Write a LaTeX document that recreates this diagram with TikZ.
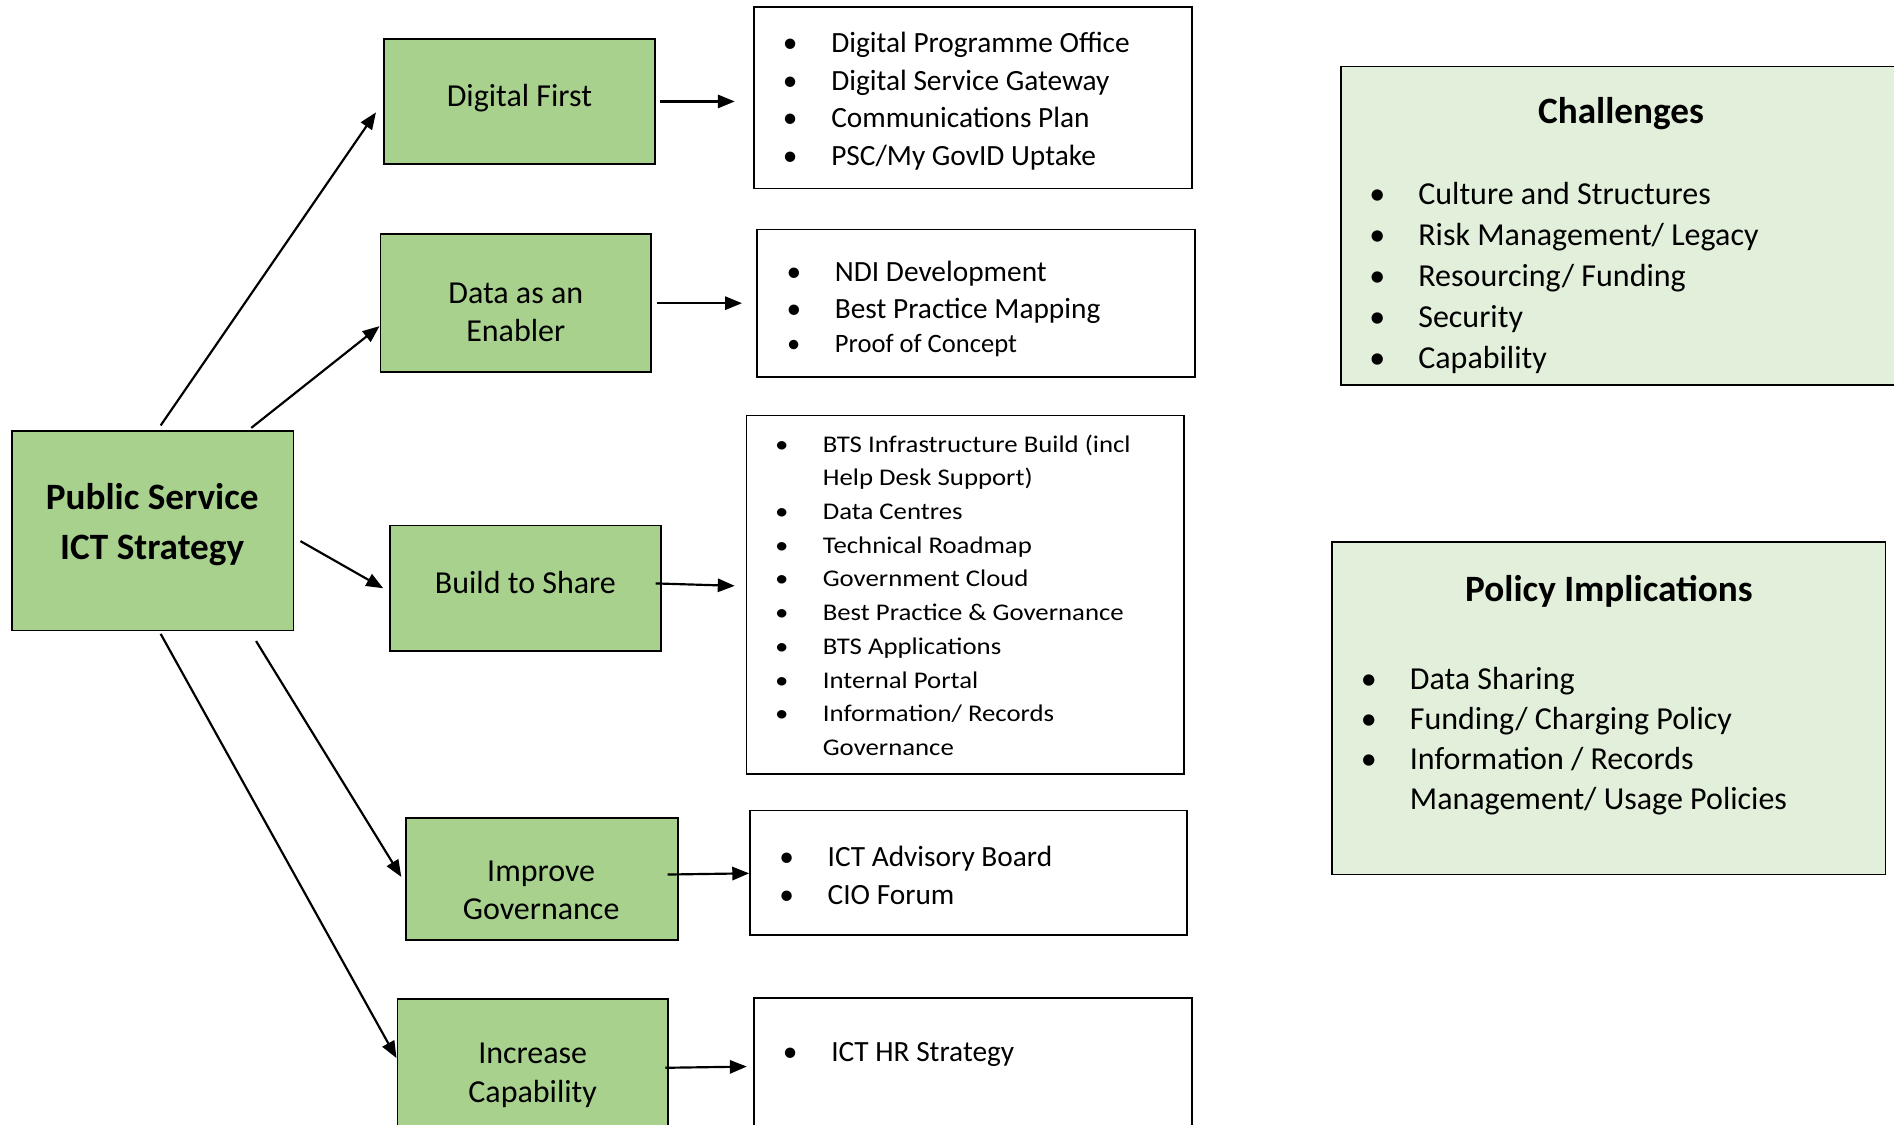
\documentclass[tikz,border=0pt]{standalone}
\usepackage{fontspec}
\setmainfont{Carlito}
\newfontfamily\widefont[FakeStretch=1.12]{Carlito}
\usetikzlibrary{arrows.meta,calc}
\definecolor{gfill}{HTML}{A9D18E}
\definecolor{lfill}{HTML}{E2EFDA}
\newcommand\bul{\makebox[0pt][c]{\textbullet}\hspace{34pt}}
\begin{document}
\begin{tikzpicture}[x=1pt,y=-1pt,
  box/.style={rectangle, draw=black, line width=1.5pt, inner sep=0pt},
  gbox/.style={box, fill=gfill},
  lbox/.style={box, fill=lfill},
  wbox/.style={box, fill=white},
  arr/.style={line width=1.8pt, -{Triangle[length=14pt,width=11pt]}},
  li/.style={anchor=base west, inner sep=0pt},
  fA/.style={font=\fontsize{26.5}{31.5}\selectfont},
  fB/.style={font=\fontsize{24.3}{29}\selectfont},
  fC/.style={font=\fontsize{22}{27}\selectfont},
  fD/.style={font=\widefont\fontsize{19.8}{24}\selectfont},
  fE/.style={font=\fontsize{24.3}{29}\selectfont},
  lab/.style={anchor=base, inner sep=0pt, fA},
  ttl/.style={anchor=base, inner sep=0pt, font=\bfseries\fontsize{30.8}{40}\selectfont}]
\clip (0,0) rectangle (1568,931);
\fill[white] (0,0) rectangle (1568,931);

% green boxes
\node[gbox, minimum width=233pt, minimum height=165pt] (main) at (126.5,439.5) {};
\node[gbox, minimum width=224pt, minimum height=104pt] (df) at (430,84) {};
\node[gbox, minimum width=224pt, minimum height=114pt] (de) at (427,251) {};
\node[gbox, minimum width=224pt, minimum height=104pt] (bs) at (435,487) {};
\node[gbox, minimum width=225pt, minimum height=101pt] (ig) at (448.5,727.5) {};
\node[gbox, minimum width=224pt, minimum height=113pt] (ic) at (441,883.5) {};

% list boxes
\node[wbox, minimum width=363pt, minimum height=150pt] (L1) at (805.5,81) {};
\node[wbox, minimum width=362pt, minimum height=122pt] (L2) at (808,251) {};
\node[wbox, minimum width=362pt, minimum height=297pt] (L3) at (799,492.5) {};
\node[wbox, minimum width=362pt, minimum height=103pt] (L4) at (802,722.5) {};
\node[wbox, minimum width=363pt, minimum height=114pt] (L5) at (805.5,883) {};

% side boxes
\node[lbox, minimum width=490pt, minimum height=264pt] (ch) at (1355,187) {};
\node[lbox, minimum width=458pt, minimum height=275pt] (po) at (1332,586.5) {};

% labels in green boxes
\node[ttl] (mainA) at (126,421.9) {Public Service};
\node[ttl] (mainB) at (126,462.9) {ICT Strategy};
\node[lab] (dfA) at (430,88.5) {Digital First};
\node[lab] (deA) at (427,251.5) {Data as an};
\node[lab] (deB) at (427,282.5) {Enabler};
\node[lab] (bsA) at (435,491.5) {Build to Share};
\node[lab] (igA) at (448,729.5) {Improve};
\node[lab] (igB) at (448,761.5) {Governance};
\node[lab] (icA) at (441,880.5) {Increase};
\node[lab] (icB) at (441,912.5) {Capability};

% list 1
\foreach \t [count=\i] in {Digital Programme Office, Digital Service Gateway, Communications Plan, PSC/My GovID Uptake}
  \node[li, fB] (la\i) at (654,{43.7+31*(\i-1)}) {\bul\t};

% list 2
\node[li, fB] (lb1) at (657,232.7) {\bul NDI Development};
\node[li, fB] (lb2) at (657,263.7) {\bul Best Practice Mapping};
\node[li, fC] (lb3) at (657,292) {\bul Proof of Concept};

% list 3
\node[li, fD] (lc1) at (647,374.3) {\bul BTS Infrastructure Build (incl};
\node[li, fD] (lc2) at (681,402.2) {Help Desk Support)};
\node[li, fD] (lc3) at (647,430.1) {\bul Data Centres};
\node[li, fD] (lc4) at (647,458) {\bul Technical Roadmap};
\node[li, fD] (lc5) at (647,485.9) {\bul Government Cloud};
\node[li, fD] (lc6) at (647,513.8) {\bul Best Practice \& Governance};
\node[li, fD] (lc7) at (647,541.7) {\bul BTS Applications};
\node[li, fD] (lc8) at (647,569.6) {\bul Internal Portal};
\node[li, fD] (lc9) at (647,597.5) {\bul Information/ Records};
\node[li, fD] (lc10) at (681,625.4) {Governance};

% list 4
\node[li, fB] (ld1) at (651,717.7) {\bul ICT Advisory Board};
\node[li, fB] (ld2) at (651,748.7) {\bul CIO Forum};

% list 5
\node[li, fE] (le1) at (654,878.5) {\bul ICT HR Strategy};

% challenges
\node[ttl] (chT) at (1342,101.9) {Challenges};
\foreach \t [count=\i] in {Culture and Structures, Risk Management/ Legacy, Resourcing/ Funding, Security, Capability}
  \node[li, fA] (chi\i) at (1140,{169.5+33.8*(\i-1)}) {\bul\t};

% policy
\node[ttl] (poT) at (1332,497.9) {Policy Implications};
\node[li, fA] (po1) at (1133,570.5) {\bul Data Sharing};
\node[li, fA] (po2) at (1133,603.8) {\bul Funding/ Charging Policy};
\node[li, fA] (po3) at (1133,637.1) {\bul Information / Records};
\node[li, fA] (po4) at (1167,670.4) {Management/ Usage Policies};

% arrows from main
\draw[arr] ($(main.north)+(6.5,-4)$) -- ($(df.west)+(-6,9)$);
\draw[arr] ($(main.north)+(81.5,-2)$) -- ($(de.west)+(0,19)$);
\draw[arr] ($(main.east)+(5,8.5)$) -- ($(bs.west)+(-5,0)$);
\draw[arr] ($(main.south)+(85.5,8)$) -- ($(ig.west)+(-3,-1.5)$);
\draw[arr] ($(main.south)+(6.5,2)$) -- ($(ic.west)+(0,-7.5)$);

% arrows to lists
\draw[arr] ($(df.east)+(4,0)$) -- ($(L1.west)+(-15,3)$);
\draw[arr] ($(de.east)+(4,0)$) -- ($(L2.west)+(-12,0)$);
\draw[arr] ($(bs.east)+(-5,-4)$) -- ($(L3.west)+(-9,-7.5)$);
\draw[arr] ($(ig.east)+(-9,-3.5)$) -- ($(L4.west)+(0,0.5)$);
\draw[arr] ($(ic.east)+(-3,0.5)$) -- ($(L5.west)+(-5,0)$);
\end{tikzpicture}
\end{document}
